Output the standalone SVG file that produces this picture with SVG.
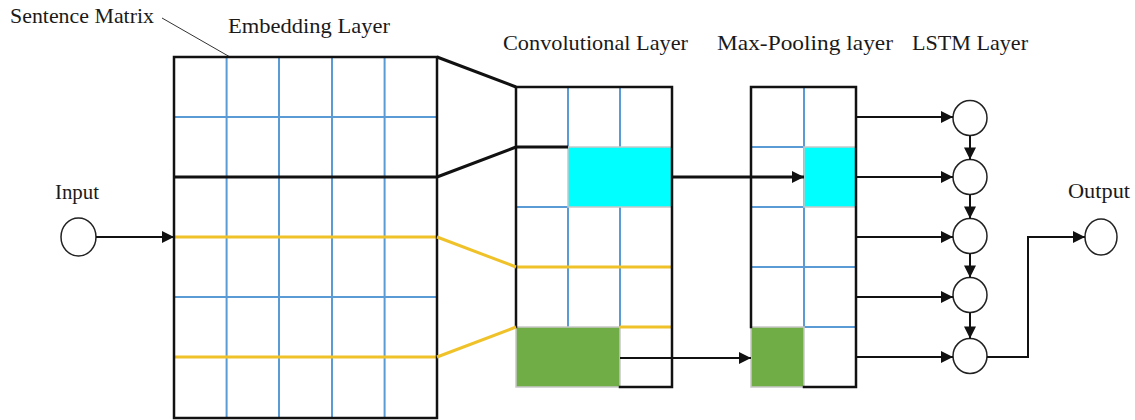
<svg xmlns="http://www.w3.org/2000/svg" width="1135" height="420" viewBox="0 0 1135 420">
  <style>
    text { font-family: "Liberation Serif", "Times New Roman", serif; font-size: 22px; fill: #1a1a1a; }
    .frame { fill: none; stroke: #111; stroke-width: 2.5; stroke-linecap: square; }
    .grid { fill: none; stroke: #5b9bd5; stroke-width: 2; }
    .gold { fill: none; stroke: #f0c22a; stroke-width: 3; }
    .bold { fill: none; stroke: #111; stroke-width: 3; }
    .link { fill: none; stroke: #111; stroke-width: 2; }
    .node { fill: #fff; stroke: #222; stroke-width: 1.5; }
    .cyan { fill: #00ffff; stroke: #c8c8c8; stroke-width: 1.5; }
    .green { fill: #70ad47; stroke: #c8c8c8; stroke-width: 1.5; }
  </style>
  <defs>
    <marker id="arrow" viewBox="0 0 10 10" refX="10" refY="5" markerWidth="14" markerHeight="12" markerUnits="userSpaceOnUse" orient="auto">
      <path d="M0,0 L10,5 L0,10 z" fill="#111"/>
    </marker>
  </defs>

  <!-- Labels -->
  <text x="10" y="23" textLength="144" lengthAdjust="spacingAndGlyphs">Sentence Matrix</text>
  <text x="228" y="33" textLength="162" lengthAdjust="spacingAndGlyphs">Embedding Layer</text>
  <text x="503" y="50" textLength="185" lengthAdjust="spacingAndGlyphs">Convolutional Layer</text>
  <text x="717" y="50" textLength="176" lengthAdjust="spacingAndGlyphs">Max-Pooling layer</text>
  <text x="912" y="50" textLength="116" lengthAdjust="spacingAndGlyphs">LSTM Layer</text>
  <text x="55" y="199" textLength="44" lengthAdjust="spacingAndGlyphs">Input</text>
  <text x="1068" y="198" textLength="62" lengthAdjust="spacingAndGlyphs">Output</text>
  <line x1="162" y1="18" x2="230" y2="57" stroke="#333" stroke-width="1"/>

  <!-- Embedding layer: 5x6 sentence matrix -->
  <g id="embedding">
    <path class="grid" d="M226.6,57V418 M279,57V418 M332,57V418 M384.6,57V418 M174,117H437 M174,297H437"/>
    <path class="bold" d="M174,177H437"/>
    <path class="gold" d="M174,237H437 M174,357H437"/>
    <rect class="frame" x="174" y="57" width="263" height="361"/>
  </g>

  <!-- Convolutional layer -->
  <g id="convolution">
    <path class="grid" d="M568,87V147 M620,87V147 M568,207V327 M620,207V327 M516,207H568"/>
    <rect class="cyan" x="568" y="147" width="104" height="60"/>
    <rect class="green" x="516" y="327" width="104" height="60"/>
    <path class="gold" d="M516,267H672 M620,327H672"/>
    <path class="frame" d="M516,327V87H672V387H620"/>
    <path class="bold" d="M516,147H568"/>
  </g>

  <!-- Max-pooling layer -->
  <g id="maxpool">
    <path class="grid" d="M804,87V327 M751,147H804 M751,207H804 M751,267H856 M804,327H856"/>
    <rect class="cyan" x="804" y="147" width="52" height="60"/>
    <rect class="green" x="751" y="327" width="53" height="60"/>
    <path class="frame" d="M751,327V87H856V387H804"/>
  </g>

  <!-- Input / LSTM / Output nodes -->
  <g id="input"><ellipse class="node" cx="78.5" cy="237" rx="17.5" ry="19"/></g>
  <g id="lstm1"><ellipse class="node" cx="970" cy="118" rx="17" ry="17.5"/></g>
  <g id="lstm2"><ellipse class="node" cx="970" cy="177" rx="17" ry="17.5"/></g>
  <g id="lstm3"><ellipse class="node" cx="970" cy="236" rx="17" ry="17.5"/></g>
  <g id="lstm4"><ellipse class="node" cx="970" cy="295" rx="17" ry="17.5"/></g>
  <g id="lstm5"><ellipse class="node" cx="970" cy="356" rx="17" ry="17.5"/></g>
  <g id="output"><ellipse class="node" cx="1101" cy="237" rx="16" ry="18"/></g>

  <!-- Connectors -->
  <g id="connectors">
    <!-- embedding to convolution projections -->
    <path class="bold" d="M437,57L516,87 M437,177L516,147"/>
    <path class="gold" d="M437,237L516,267 M437,357L516,327"/>
    <!-- input into embedding -->
    <path class="link" d="M96,237H174" marker-end="url(#arrow)"/>
    <!-- convolution to pooling -->
    <path class="bold" d="M672,177H804" marker-end="url(#arrow)"/>
    <path class="link" d="M620,358H751" marker-end="url(#arrow)"/>
    <!-- pooling to LSTM -->
    <path class="link" d="M856,117H953" marker-end="url(#arrow)"/>
    <path class="link" d="M856,177H953" marker-end="url(#arrow)"/>
    <path class="link" d="M856,237H953" marker-end="url(#arrow)"/>
    <path class="link" d="M856,297H953" marker-end="url(#arrow)"/>
    <path class="link" d="M856,357H953" marker-end="url(#arrow)"/>
    <!-- LSTM chain -->
    <path class="link" d="M970,135.5V159.5" marker-end="url(#arrow)"/>
    <path class="link" d="M970,194.5V218.5" marker-end="url(#arrow)"/>
    <path class="link" d="M970,253.5V277.5" marker-end="url(#arrow)"/>
    <path class="link" d="M970,312.5V338.5" marker-end="url(#arrow)"/>
    <!-- LSTM to output -->
    <path class="link" stroke-width="1.5" d="M987,357H1028V237H1085" marker-end="url(#arrow)"/>
  </g>
</svg>
